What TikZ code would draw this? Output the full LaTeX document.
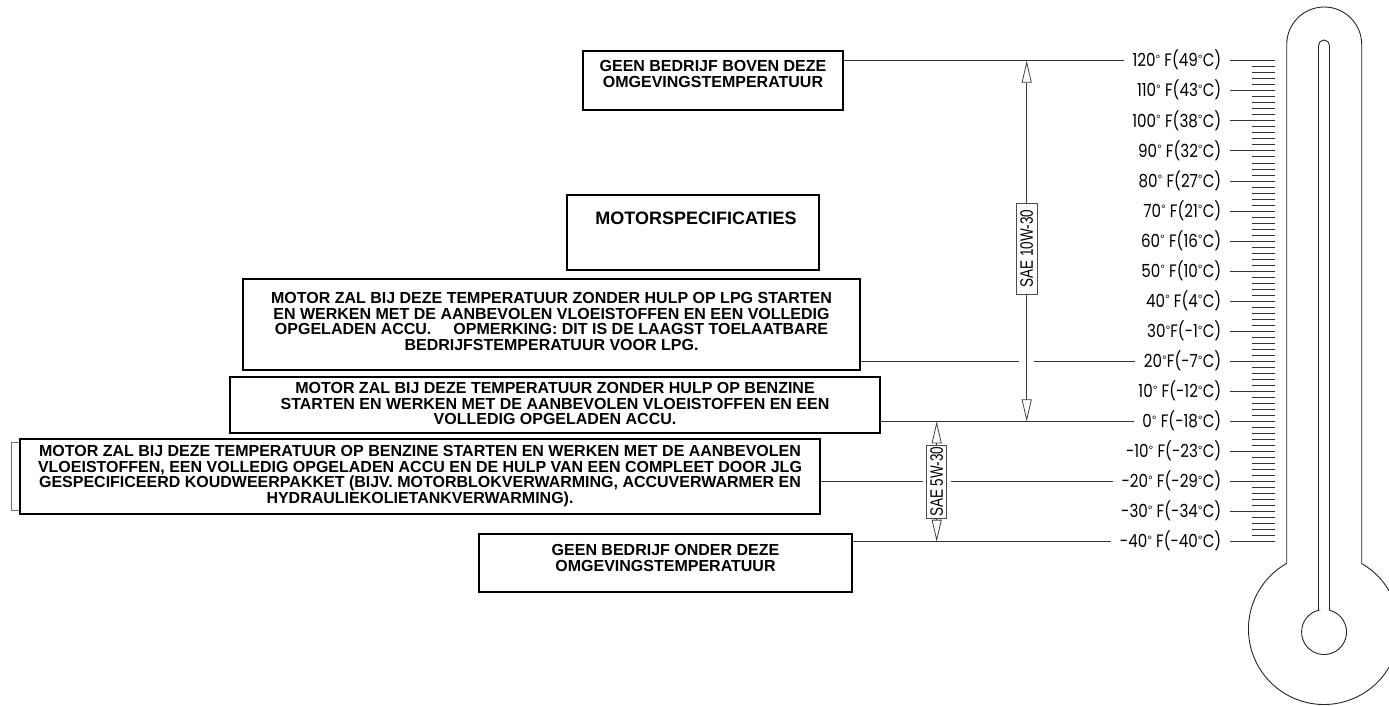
\documentclass[tikz,border=0pt]{standalone}
\usepackage{fontspec}
\setmainfont{Liberation Sans}
\newfontfamily\thermfont[FakeStretch=0.84]{Poppins}
\newfontfamily\degfont{Liberation Sans}
\newfontfamily\saefont[FakeStretch=0.75]{Liberation Sans}
\newcommand\dg{\raisebox{3.4pt}{\degfont\fontsize{12}{12}\selectfont °}}
\usetikzlibrary{arrows.meta}
\begin{document}
\begin{tikzpicture}[x=1pt,y=-1pt,
  panel/.style={draw=black,line width=1.5pt,fill=white,rectangle,inner sep=0pt},
  paneltext/.style={font=\bfseries\fontsize{16}{15.7}\selectfont,align=center,inner sep=0pt,anchor=north},
  leader/.style={draw=black!80,line width=0.8pt},
  templabel/.style={font=\thermfont\fontsize{18}{18}\selectfont,anchor=base east,inner xsep=8.5pt,inner ysep=0pt},
  saebox/.style={draw=black!70,line width=0.8pt,fill=white,rotate=90,inner sep=0pt,font=\saefont\fontsize{18}{18}\selectfont},
  oilarrow/.style={draw=black!75,line width=0.8pt,-{Triangle[open,length=22pt,width=10pt]}},
  tick/.style={draw=black!80,line width=0.8pt},
  outline/.style={draw=black!85,line width=0.9pt}
]
\useasboundingbox (0,0) rectangle (1389,705);

% ---------- thermometer ----------
\draw[outline] (1286.7,563.6) -- (1286.7,44.5) arc[start angle=180,end angle=360,radius=37.5]
  -- (1361.7,563.6) arc[start angle=-60,end angle=240,radius=75.5] -- cycle;
\draw[outline] (1318.5,610.2) -- (1318.5,45.5) arc[start angle=180,end angle=360,radius=5.5]
  -- (1329.5,610.2) arc[start angle=-76,end angle=256,radius=22.5] -- cycle;

% ---------- scale ----------
\foreach \t/\lab/\nm in {120/{120\dg\ F(49\dg C)}/l120, 110/{110\dg\ F(43\dg C)}/l110, 100/{100\dg\ F(38\dg C)}/l100,
   90/{90\dg\ F(32\dg C)}/l90, 80/{80\dg\ F(27\dg C)}/l80, 70/{70\dg\ F(21\dg C)}/l70, 60/{60\dg\ F(16\dg C)}/l60,
   50/{50\dg\ F(10\dg C)}/l50, 40/{40\dg\ F(4\dg C)}/l40, 30/{30\dg F(-1\dg C)}/l30, 20/{20\dg F(-7\dg C)}/l20,
   10/{10\dg\ F(-12\dg C)}/l10, 0/{0\dg\ F(-18\dg C)}/l0, -10/{-10\dg\ F(-23\dg C)}/lm10, -20/{-20\dg\ F(-29\dg C)}/lm20,
   -30/{-30\dg\ F(-34\dg C)}/lm30, -40/{-40\dg\ F(-40\dg C)}/lm40}{
  \pgfmathsetmacro{\yy}{60.7+(120-\t)*3.006}
  \node[templabel] (\nm) at (1230,\yy+6.2) {\lab};
  \draw[tick] (1230,\yy) -- (1275,\yy);
}
\foreach \i in {0,...,15}{
  \foreach \j in {1,...,4}{
    \pgfmathsetmacro{\yy}{60.7+\i*30.06+\j*6.012}
    \draw[tick] (1252.3,\yy) -- (1275,\yy);
  }
}

% ---------- level coordinates ----------
\coordinate (y120) at (0,60.7);
\coordinate (y20) at (0,361.3);
\coordinate (y0) at (0,421.4);
\coordinate (ym20) at (0,481.5);
\coordinate (ym40) at (0,541.7);

% ---------- panels ----------
\draw[draw=black!55,line width=0.8pt] (11,442.7) rectangle (40,510.7);
\node[panel,minimum width=260pt,minimum height=59pt] (b1) at (713,80.5) {};
\node[panel,minimum width=252pt,minimum height=75pt] (b2) at (693,232.5) {};
\node[panel,minimum width=617pt,minimum height=91pt] (b3) at (551.5,324.5) {};
\node[panel,minimum width=650pt,minimum height=56pt] (b4) at (555,405) {};
\node[panel,minimum width=800pt,minimum height=75pt] (b5) at (420,476.5) {};
\node[panel,minimum width=373pt,minimum height=58pt] (b6) at (665.5,563) {};

\node[paneltext] (t1) at (713,60.5) {GEEN BEDRIJF BOVEN DEZE\\OMGEVINGSTEMPERATUUR};
\node[font=\bfseries\fontsize{18}{18}\selectfont,anchor=base,inner sep=0pt] (t2) at (696,224.5) {MOTORSPECIFICATIES};
\node[paneltext] (t3) at (551.5,292.2) {MOTOR ZAL BIJ DEZE TEMPERATUUR ZONDER HULP OP LPG STARTEN\\EN WERKEN MET DE AANBEVOLEN VLOEISTOFFEN EN EEN VOLLEDIG\\OPGELADEN ACCU.\hspace{1.1em} OPMERKING: DIT IS DE LAAGST TOELAATBARE\\BEDRIJFSTEMPERATUUR VOOR LPG.};
\node[paneltext] (t4) at (555,382.2) {MOTOR ZAL BIJ DEZE TEMPERATUUR ZONDER HULP OP BENZINE\\STARTEN EN WERKEN MET DE AANBEVOLEN VLOEISTOFFEN EN EEN\\VOLLEDIG OPGELADEN ACCU.};
\node[paneltext] (t5) at (420,445.2) {MOTOR ZAL BIJ DEZE TEMPERATUUR OP BENZINE STARTEN EN WERKEN MET DE AANBEVOLEN\\VLOEISTOFFEN, EEN VOLLEDIG OPGELADEN ACCU EN DE HULP VAN EEN COMPLEET DOOR JLG\\GESPECIFICEERD KOUDWEERPAKKET (BIJV. MOTORBLOKVERWARMING, ACCUVERWARMER EN\\HYDRAULIEKOLIETANKVERWARMING).};
\node[paneltext] (t6) at (665.5,544.2) {GEEN BEDRIJF ONDER DEZE\\OMGEVINGSTEMPERATUUR};

% ---------- SAE ranges ----------
\node[saebox,minimum width=90.7pt,minimum height=20.6pt] (s10) at (1026.7,248.65) {SAE 10W-30};
\node[saebox,minimum width=73.3pt,minimum height=20pt] (s5) at (936.7,481.65) {SAE 5W-30};
\coordinate (a10top) at (1026.7,60.7);
\coordinate (a10bot) at (1026.7,421.4);
\coordinate (a5top) at (936.7,421.4);
\coordinate (a5bot) at (936.7,541.7);
\draw[oilarrow] (s10.east) -- (a10top);
\draw[oilarrow] (s10.west) -- (a10bot);
\draw[oilarrow] (s5.east) -- (a5top);
\draw[oilarrow] (s5.west) -- (a5bot);

% ---------- leader lines ----------
\coordinate (g20a) at (1019,361.3);
\coordinate (g20b) at (1034.3,361.3);
\coordinate (gm20a) at (922.7,481.5);
\coordinate (gm20b) at (951,481.5);
\draw[leader] (b1.east |- y120) -- (l120.west |- y120);
\draw[leader] (b3.east |- y20) -- (g20a);
\draw[leader] (g20b) -- (l20.west |- y20);
\draw[leader] (b4.east |- y0) -- (l0.west |- y0);
\draw[leader] (b5.east |- ym20) -- (gm20a);
\draw[leader] (gm20b) -- (lm20.west |- ym20);
\draw[leader] (b6.east |- ym40) -- (lm40.west |- ym40);
\end{tikzpicture}
\end{document}
